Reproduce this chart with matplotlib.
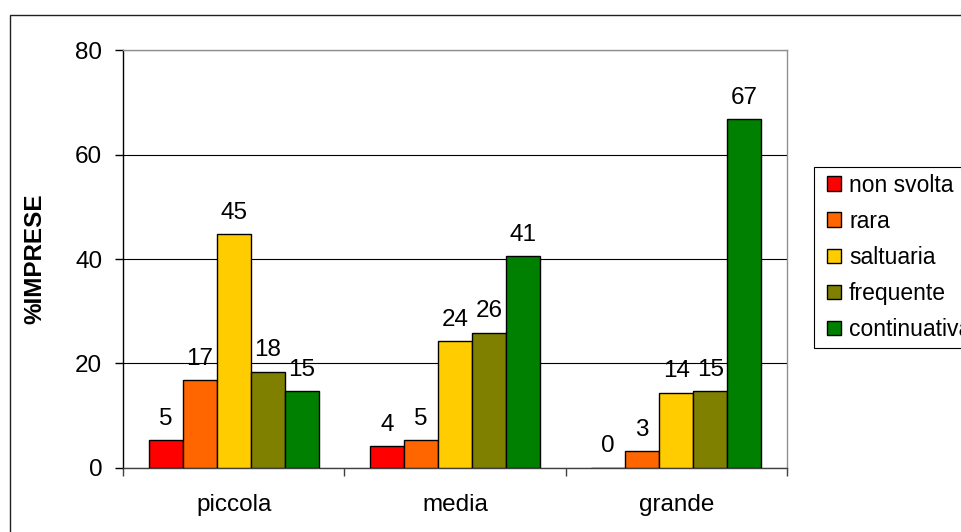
import numpy as np
import matplotlib
matplotlib.use("Agg")
import matplotlib.pyplot as plt
from matplotlib.patches import Rectangle
from matplotlib.container import BarContainer
from matplotlib.legend_handler import HandlerPatch, update_from_first_child

plt.rcParams['font.family'] = ['Liberation Sans', 'DejaVu Sans']

# dimensione impresa -> quota di imprese (%) per frequenza dell'attivita'
categories = ['piccola', 'media', 'grande']
series = ['non svolta', 'rara', 'saltuaria', 'frequente', 'continuativa']
piccola = [5.3, 16.8, 44.8, 18.4, 14.7]
media = [4.2, 5.3, 24.2, 25.9, 40.6]
grande = [0.0, 3.2, 14.4, 14.7, 66.9]
colors = ['#FF0000', '#FF6600', '#FFCC00', '#808000', '#008000']

values = np.array([piccola, media, grande]).T   # rows = series
FS = 17.5
LFS = 16.5

fig = plt.figure(figsize=(9.62, 5.32), dpi=100)
ax = fig.add_axes([0.1279, 0.1209, 0.690, 0.7842])

# outer chart frame (runs off the right and bottom edge)
fig.patches.append(Rectangle((10 / 962, -0.2), 1.2, 1.2 - 15 / 532,
                             transform=fig.transFigure, fill=False,
                             edgecolor='#202020', linewidth=1.0))

x = np.arange(len(categories))
w = 0.1536
for i, (name, col) in enumerate(zip(series, colors)):
    pos = x + (i - 2) * w
    ax.bar(pos, values[i], width=w, color=col, edgecolor='black',
           linewidth=1.0, label=name, zorder=3)
    for xp, v in zip(pos, values[i]):
        ax.annotate('%.0f' % v, (xp, v), xytext=(0, 11), textcoords='offset points',
                    ha='center', va='baseline', fontsize=FS)

ax.set_xlim(-0.5, 2.5)
ax.set_ylim(0, 80)
ax.set_yticks([0, 20, 40, 60, 80])
ax.yaxis.grid(True, color='black', linewidth=0.8, zorder=0)
ax.set_axisbelow(True)

ax.set_xticks(x)
ax.set_xticklabels(categories, fontsize=FS)
ax.set_xticks([-0.5, 0.5, 1.5, 2.5], minor=True)
ax.tick_params(axis='x', which='major', length=0, pad=19)
ax.tick_params(axis='x', which='minor', length=6, width=1, color='#404040')
ax.tick_params(axis='y', length=6, width=1, pad=9, labelsize=FS)

ax.spines['left'].set_color('black')
ax.spines['bottom'].set_color('#404040')
ax.spines['top'].set_color('#909090')
ax.spines['right'].set_color('#909090')
for s in ax.spines.values():
    s.set_linewidth(1.0)

ax.set_ylabel('%IMPRESE', fontsize=FS, fontweight='bold')
ax.yaxis.set_label_coords(-0.115, 0.5)

leg = fig.legend(loc='upper left', bbox_to_anchor=(814 / 962, 1 - 167 / 532),
                 bbox_transform=fig.transFigure, borderaxespad=0, fontsize=LFS,
                 frameon=True, fancybox=False, edgecolor='black', framealpha=1,
                 handlelength=0.9, handleheight=0.62, handletextpad=0.33,
                 labelspacing=0.57, borderpad=0.3,
                 handler_map={BarContainer: HandlerPatch(
                     xpad=0.27, update_func=update_from_first_child)})
leg.get_frame().set_linewidth(0.8)

fig.savefig('out.png', dpi=100)
